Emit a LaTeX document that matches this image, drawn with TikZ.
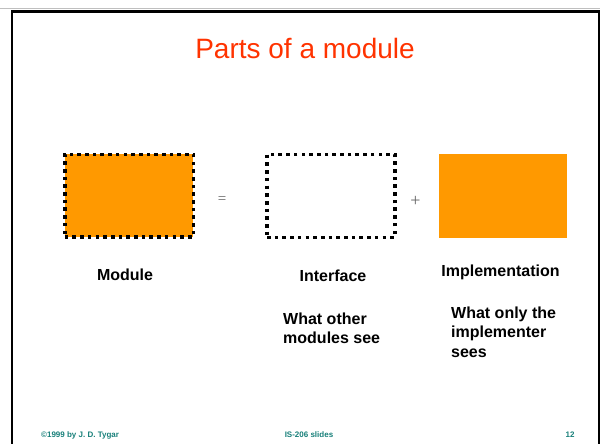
\documentclass[tikz,border=0pt]{standalone}
\usepackage{fontspec}
\setmainfont{Liberation Sans}
\newfontfamily\symface{Liberation Serif}
\definecolor{titlered}{RGB}{255,51,0}
\definecolor{modorange}{RGB}{255,153,0}
\definecolor{footteal}{RGB}{24,128,122}
\definecolor{opgray}{RGB}{100,100,100}
\tikzset{
  dotframe/.style={draw=black, line width=3.6pt, dash pattern=on 3.6pt off 4.1pt, inner sep=0pt, outer sep=0pt},
  plainbox/.style={inner sep=0pt, outer sep=0pt},
  label/.style={font=\fontsize{16}{19}\selectfont\bfseries, inner sep=0pt, anchor=base},
  note/.style={font=\fontsize{16}{19}\selectfont\bfseries, inner sep=0pt, anchor=base west},
  footer/.style={font=\fontsize{8}{9}\selectfont\bfseries, text=footteal, inner sep=0pt, anchor=base},
  opsign/.style={text=opgray, inner sep=0pt}
}
\begin{document}
\begin{tikzpicture}[x=1pt,y=-1pt]
\useasboundingbox (0,0) rectangle (600,444);
\fill[white] (0,0) rectangle (600,444);

% slide frame, open at the bottom
\draw[black!25, line width=1pt] (0,9) -- (600,9);
\draw[black, line width=2.2pt] (12.2,446) -- (12.2,11.5) -- (598.8,11.5) -- (598.8,446);

% title
\node[font=\fontsize{28}{32}\selectfont, text=titlered, inner sep=0pt, anchor=base] (title) at (305,59) {Parts of a module};

% the three boxes
\node[dotframe, fill=modorange, minimum width=128.6pt, minimum height=82.4pt] (module) at (129,195.5) {};
\node[dotframe, fill=white, minimum width=127.7pt, minimum height=83pt] (iface) at (330.9,195.8) {};
\node[plainbox, fill=modorange, minimum width=128pt, minimum height=84pt] (impl) at (503,196) {};

% operators between the boxes
\node[opsign, font=\symface\fontsize{15}{15}\selectfont] (eq) at (222,200.5) {=};
\node[opsign, font=\symface\fontsize{18}{18}\selectfont] (plus) at (415.5,201) {+};

% captions
\node[label] (modlbl) at (125,280) {Module};
\node[label] (ifacelbl) at (333,281) {Interface};
\node[label] (impllbl) at (500.5,276) {Implementation};

\node[note] (ifnoteA) at (283,324) {What other};
\node[note] (ifnoteB) at (283,343) {modules see};

\node[note] (imnoteA) at (451,318) {What only the};
\node[note] (imnoteB) at (451,337.5) {implementer};
\node[note] (imnoteC) at (451,357) {sees};

% footer
\node[footer, anchor=base west] (copy) at (41,437) {©1999 by J. D. Tygar};
\node[footer] (course) at (309,437) {IS-206 slides};
\node[footer] (page) at (570,437) {12};
\end{tikzpicture}
\end{document}
